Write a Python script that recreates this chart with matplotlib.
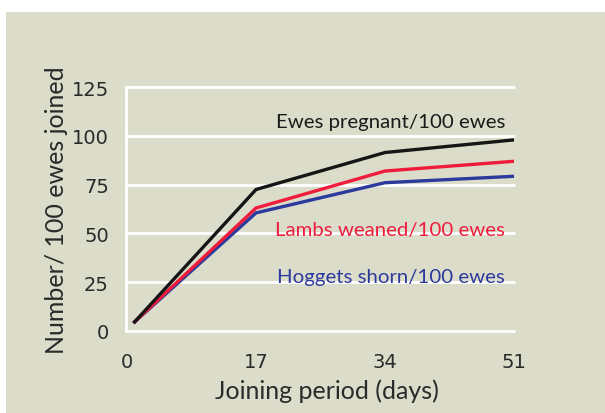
import matplotlib
matplotlib.use("Agg")
import matplotlib.pyplot as plt
from matplotlib.patches import Rectangle

days = [1, 17, 34, 51]
pregnant = [4.5, 72.5, 91.5, 98]
weaned = [4.5, 63, 82, 87]
shorn = [4.5, 60.5, 76, 79.3]
x_ticks = [0, 17, 34, 51]
y_ticks = [0, 25, 50, 75, 100, 125]

BG = "#dcdccb"
FONT = "Lato"
TXT = "#2a2a2a"
plt.rcParams['font.family'] = [FONT, 'DejaVu Sans']

fig = plt.figure(figsize=(6.05, 4.14), dpi=100, facecolor="white")
fig.add_artist(Rectangle((6/605, 0), 1, 1 - 13/414, transform=fig.transFigure,
                         facecolor=BG, edgecolor="none", zorder=-10))
ax = fig.add_axes([127/605, 1 - 331.7/414, (514 - 127)/605, (331.7 - 88.3)/414])
ax.set_facecolor("none")
ax.set_xlim(0, 51)
ax.set_ylim(0, 125)

for y in y_ticks:
    ax.plot([-0.1, 51.1], [y, y], color="white", lw=2, solid_capstyle="butt",
            clip_on=False, zorder=1)
ax.plot([-0.1, -0.1], [0, 125], color="white", lw=2, clip_on=False, zorder=1)

ax.plot(days, shorn, color="#2b3a9c", lw=2.4, zorder=3, solid_joinstyle="miter")
ax.plot(days, weaned, color="#ef1c3c", lw=2.4, zorder=4, solid_joinstyle="miter")
ax.plot(days, pregnant, color="#151515", lw=2.4, zorder=5, solid_joinstyle="miter")

for s in ax.spines.values():
    s.set_visible(False)
ax.set_xticks(x_ticks)
ax.set_yticks(y_ticks)
ax.tick_params(length=0, labelsize=14, colors=TXT)
ax.tick_params(axis="y", pad=13)
ax.tick_params(axis="x", pad=15)
for lbl in ax.get_xticklabels() + ax.get_yticklabels():
    lbl.set_family("DejaVu Sans")

ax.set_xlabel("Joining period (days)", fontsize=18, color=TXT, labelpad=6)
ax.xaxis.label.set_x(0.517)
ax.set_ylabel("Number/ 100 ewes joined", fontsize=18, color=TXT, labelpad=3)

ax.text(49.8, 107.5, "Ewes pregnant/100 ewes", ha="right", va="center",
        fontsize=14.7, color="#1a1a1a")
ax.text(49.8, 52, "Lambs weaned/100 ewes", ha="right", va="center",
        fontsize=14.7, color="#ef1c3c")
ax.text(49.8, 28, "Hoggets shorn/100 ewes", ha="right", va="center",
        fontsize=14.7, color="#2b3a9c")

fig.savefig("out.png", dpi=100, facecolor=fig.get_facecolor())
